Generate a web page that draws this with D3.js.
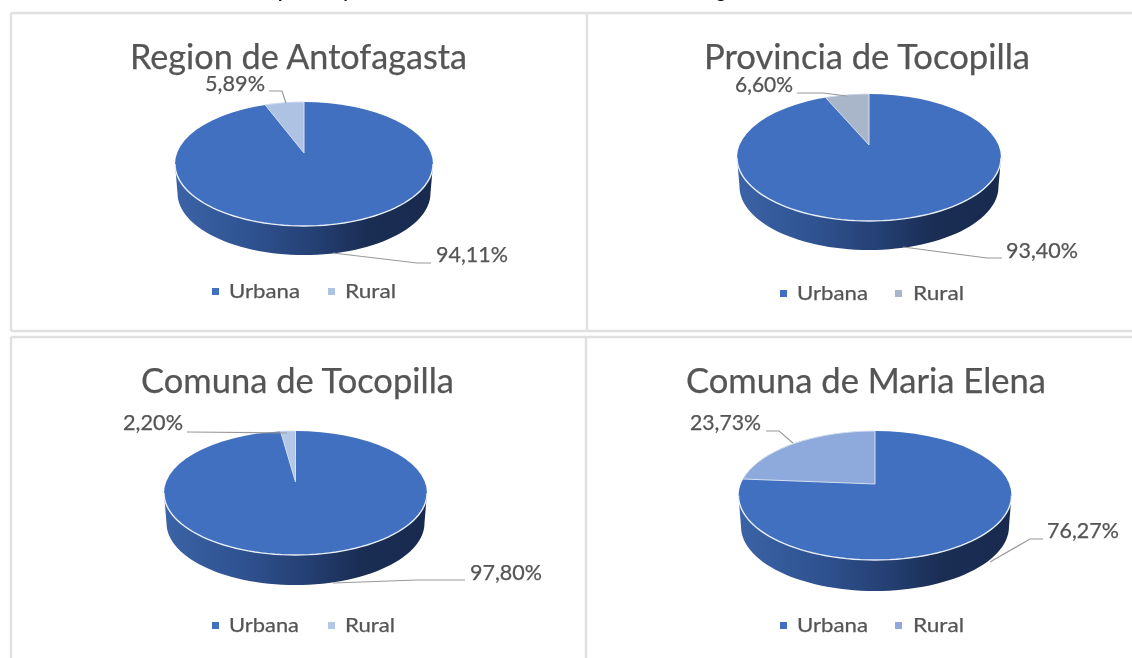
<!DOCTYPE html>
<html><head><meta charset="utf-8">
<script src="https://cdn.jsdelivr.net/npm/d3@7/dist/d3.min.js"></script>
<style>html,body{margin:0;padding:0;background:#fff;overflow:hidden}svg{display:block;filter:blur(.55px)}text{font-family:Lato,"Open Sans",sans-serif;fill:#555;stroke:#555;stroke-width:.25px}</style>
</head><body><svg id="c" width="1132" height="658"></svg>
<script>
const titles=["Region de Antofagasta","Provincia de Tocopilla","Comuna de Tocopilla","Comuna de Maria Elena"];
const seriesNames=["Urbana","Rural"];
const urbana=[94.11,93.40,97.80,76.27];
const rural=[5.89,6.60,2.20,23.73];
const ruralColors=["#aec3e3","#a9b6c9","#b4c7e7","#8ea9db"];
const urbanColor="#4170c0";
const fragments=[["p",283],["y",347],["g",721]];

const layout=[
 {cx:304,rx:129,top:102,bot:226,floor:255,ay:153,
  title:[130,467,69],lab:[[205,265,91],[436,508,262]],
  leadR:[[269,91],[282,91],[286,103]],leadU:[[333,253],[417,263],[431,263]],
  leg:[[215,229,300],[331,345,396],298]},
 {cx:869,rx:132,top:94,bot:221,floor:250,ay:145,
  title:[704,1030,69],lab:[[735,793,92],[1006,1078,258]],
  leadR:[[797,93],[823,93],[847,96]],leadU:[[903,247],[987,258],[1002,258]],
  leg:[[783,797,868],[898,913,964],300]},
 {cx:295.5,rx:131.5,top:431,bot:555,floor:585,ay:482,
  title:[141,454,393],lab:[[123,183,430],[470,542,580]],
  leadR:[[187,432],[287,433]],leadU:[[333,583],[417,580],[465,580]],
  leg:[[215,229,299],[331,345,395],632]},
 {cx:875,rx:136.5,top:431,bot:560,floor:591,ay:484,
  title:[686,1046,393],lab:[[690,761,430],[1047,1119,538]],
  leadR:[[766,431],[779,431],[793,443]],leadU:[[990,562],[1030,539],[1043,539]],
  leg:[[783,797,868],[898,913,964],632]}
];

const svg=d3.select("#c");
const defs=svg.append("defs");
const fmt=v=>d3.format(".2f")(v).replace(".",",")+"%";
const frameLines=[[11,13,1132,13],[11,13,11,331],[11,331,1132,331],[587,13,587,331],
 [11,337,1132,337],[11,337,11,658],[586,337,586,658]];
svg.selectAll("line.f").data(frameLines).join("line").attr("class","f")
 .attr("x1",d=>d[0]).attr("y1",d=>d[1]).attr("x2",d=>d[2]).attr("y2",d=>d[3])
 .attr("stroke","#e0e0e0").attr("stroke-width",2.4);

svg.selectAll("text.frag").data(fragments).join("text").attr("class","frag")
 .attr("x",d=>d[1]).attr("y",-2).attr("text-anchor","middle")
 .attr("font-size",18).attr("font-weight",700).style("fill","#111").style("stroke","none").text(d=>d[0]);

const pie=d3.pie().sort(null);
const gradStops=[[0,"#3b63a6"],[.3,"#2f5290"],[.55,"#243f72"],[.75,"#1a2d53"],[1,"#182a4e"]];

titles.forEach((title,i)=>{
 const L=layout[i],g=svg.append("g");
 const ry=(L.bot-L.top)/2,cy=(L.top+L.bot)/2;
 const ang=pie([urbana[i],rural[i]]);
 const id="w"+i;
 const grad=defs.append("linearGradient").attr("id",id).attr("gradientUnits","userSpaceOnUse")
  .attr("x1",L.cx-L.rx).attr("x2",L.cx+L.rx).attr("y1",0).attr("y2",0);
 gradStops.forEach(s=>grad.append("stop").attr("offset",s[0]).attr("stop-color",s[1]));
 const depth=L.floor-L.bot;
 const arcAt=(r,dy)=>d3.range(0,181,3).map(t=>{const a=t*Math.PI/180;return [L.cx+r*Math.cos(a),cy+dy+ry*Math.sin(a)]});
 const wall=arcAt(L.rx,0).concat(arcAt(L.rx-2.5,depth).reverse());
 const line=d3.line();
 g.append("path").attr("d",line(wall)+"Z").attr("fill",`url(#${id})`);
 g.append("ellipse").attr("cx",L.cx).attr("cy",cy).attr("rx",L.rx).attr("ry",ry).attr("fill",urbanColor);
 g.append("path").attr("d",line(arcAt(L.rx,0))).attr("fill","none").attr("stroke","#e8eef8").attr("stroke-width",1.4);
 // ray from the tilted apex to the rim, at the value's angle
 const rim=a=>{
  const dx=Math.sin(a)*L.rx,dy=-Math.cos(a)*ry,oy=L.ay-cy;
  const A=dx*dx/(L.rx*L.rx)+dy*dy/(ry*ry),B=2*oy*dy/(ry*ry),C=oy*oy/(ry*ry)-1;
  const t=(-B+Math.sqrt(B*B-4*A*C))/(2*A);
  return [L.cx+dx*t,L.ay+dy*t];
 };
 const sl=ang[1];
 const pts=[[L.cx,L.ay]].concat(d3.range(0,1.0001,.05).map(f=>rim(sl.startAngle+f*(sl.endAngle-sl.startAngle))));
 g.append("path").attr("d",line(pts)+"Z").attr("fill",ruralColors[i])
  .attr("stroke","#d5dff0").attr("stroke-width",1);
 g.append("path").attr("d",line(L.leadR)).attr("fill","none").attr("stroke","#9a9a9a").attr("stroke-width",1.2);
 g.append("path").attr("d",line(L.leadU)).attr("fill","none").attr("stroke","#9a9a9a").attr("stroke-width",1.2);
 const fit=(x0,x1,y,size,txt)=>g.append("text").attr("x",x0).attr("y",y).attr("font-size",size)
   .attr("textLength",x1-x0).attr("lengthAdjust","spacingAndGlyphs").text(txt);
 fit(L.title[0],L.title[1],L.title[2],34,title);
 fit(L.lab[0][0],L.lab[0][1],L.lab[0][2],21,fmt(rural[i]));
 fit(L.lab[1][0],L.lab[1][1],L.lab[1][2],21,fmt(urbana[i]));
 seriesNames.forEach((n,k)=>{
  const e=L.leg[k],y=L.leg[2];
  g.append("rect").attr("x",e[0]-3).attr("y",y-10).attr("width",7).attr("height",7)
   .attr("fill",k?ruralColors[i]:urbanColor);
  fit(e[1],e[2],y,20,n);
 });
});
</script></body></html>
